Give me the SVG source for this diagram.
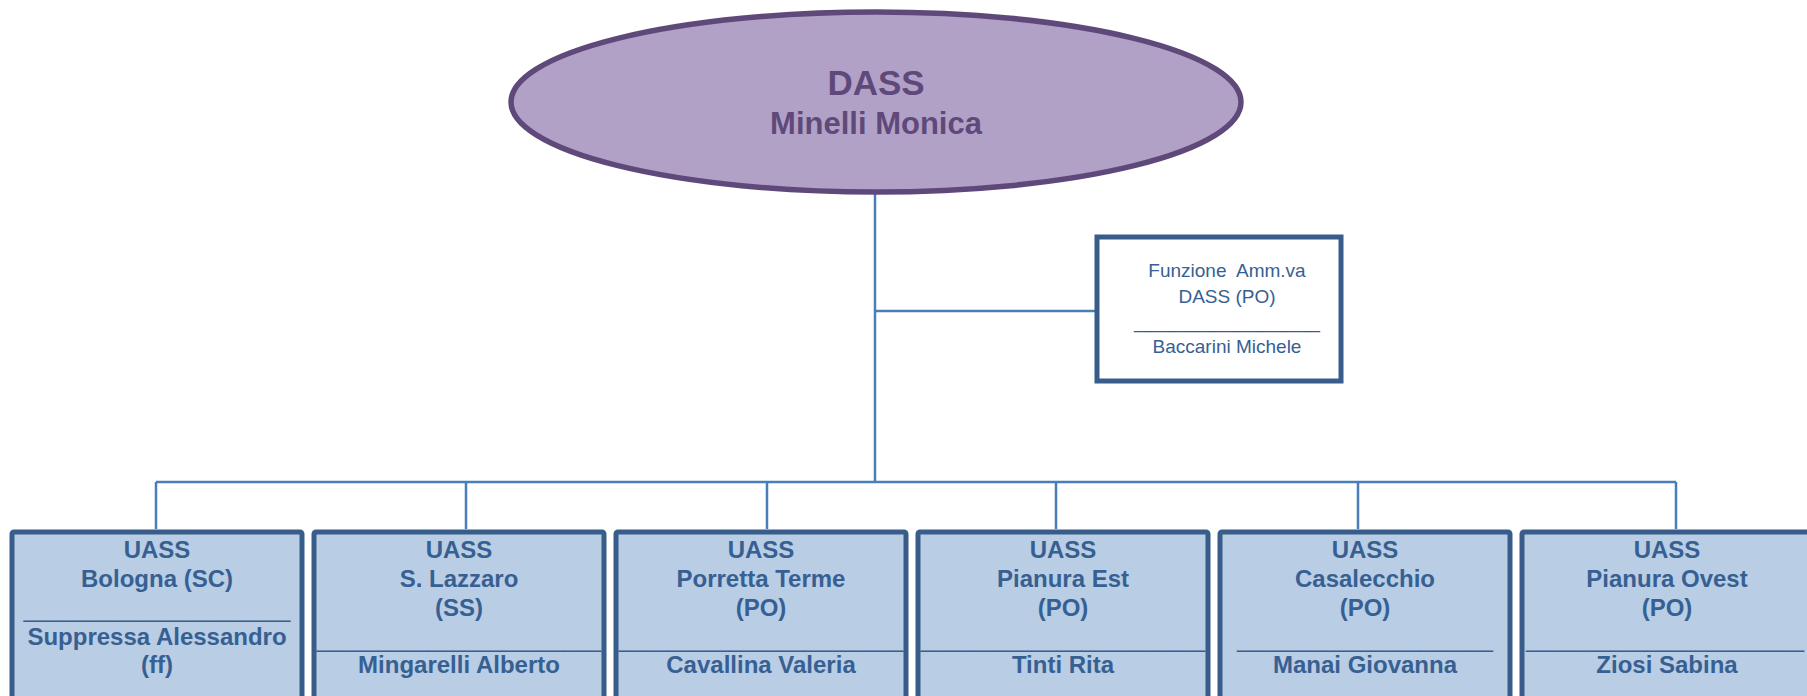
<svg xmlns="http://www.w3.org/2000/svg" width="1807" height="696" viewBox="0 0 1807 696">
<style>
.conn{stroke:#4a7ebb;stroke-width:2.5;fill:none}
.box{fill:#b9cde5;stroke:#385d8a;stroke-width:5}
.bt{font-family:"Liberation Sans",Arial,sans-serif;font-weight:bold;font-size:24px;fill:#376092;text-anchor:middle}
.sep{font-family:"Liberation Sans",Arial,sans-serif;font-size:24px;fill:#376092;text-anchor:middle}
.ft{font-family:"Liberation Sans",Arial,sans-serif;font-size:19px;fill:#376092;text-anchor:middle}
.et{font-family:"Liberation Sans",Arial,sans-serif;font-weight:bold;fill:#5f497a;text-anchor:middle}
</style>
<rect width="1807" height="696" fill="#ffffff"/>
<g id="connectors">
<path class="conn" d="M875 192V482"/>
<path class="conn" d="M875 311H1097"/>
<path class="conn" d="M156 482H1676"/>
<path class="conn" d="M156 482V529M466 482V529M767 482V529M1056 482V529M1358 482V529M1676 482V529"/>
</g>
<g id="dass">
<ellipse cx="876" cy="102" rx="365" ry="90" fill="#b2a1c7" stroke="#5f497a" stroke-width="5.5"/>
<text class="et" x="876" y="95" font-size="35">DASS</text>
<text class="et" x="876" y="134" font-size="31">Minelli Monica</text>
</g>
<g id="funzione">
<rect x="1097" y="237" width="244" height="144" fill="#ffffff" stroke="#385d8a" stroke-width="5"/>
<text class="ft" x="1227" y="277" xml:space="preserve">Funzione  Amm.va</text>
<text class="ft" x="1227" y="303">DASS (PO)</text>
<text class="ft" x="1227" y="328" textLength="186" lengthAdjust="spacingAndGlyphs">________________</text>
<text class="ft" x="1227" y="353">Baccarini Michele</text>
</g>
<g id="uass-bologna">
<rect class="box" x="12" y="532" width="290" height="180" rx="2"/>
<text class="bt" x="157" y="558">UASS</text>
<text class="bt" x="157" y="587">Bologna (SC)</text>
<text class="sep" x="157" y="617" textLength="267" lengthAdjust="spacingAndGlyphs">______________________</text>
<text class="bt" x="157" y="645">Suppressa Alessandro</text>
<text class="bt" x="157" y="673">(ff)</text>
</g>
<g id="uass-lazzaro">
<rect class="box" x="314" y="532" width="290" height="180" rx="2"/>
<text class="bt" x="459" y="558">UASS</text>
<text class="bt" x="459" y="587">S. Lazzaro</text>
<text class="bt" x="459" y="616">(SS)</text>
<text class="sep" x="459" y="647" textLength="285" lengthAdjust="spacingAndGlyphs">_______________________</text>
<text class="bt" x="459" y="673">Mingarelli Alberto</text>
</g>
<g id="uass-porretta">
<rect class="box" x="616" y="532" width="290" height="180" rx="2"/>
<text class="bt" x="761" y="558">UASS</text>
<text class="bt" x="761" y="587">Porretta Terme</text>
<text class="bt" x="761" y="616">(PO)</text>
<text class="sep" x="761" y="647" textLength="285" lengthAdjust="spacingAndGlyphs">_______________________</text>
<text class="bt" x="761" y="673">Cavallina Valeria</text>
</g>
<g id="uass-pianura-est">
<rect class="box" x="918" y="532" width="290" height="180" rx="2"/>
<text class="bt" x="1063" y="558">UASS</text>
<text class="bt" x="1063" y="587">Pianura Est</text>
<text class="bt" x="1063" y="616">(PO)</text>
<text class="sep" x="1063" y="647" textLength="285" lengthAdjust="spacingAndGlyphs">_______________________</text>
<text class="bt" x="1063" y="673">Tinti Rita</text>
</g>
<g id="uass-casalecchio">
<rect class="box" x="1220" y="532" width="290" height="180" rx="2"/>
<text class="bt" x="1365" y="558">UASS</text>
<text class="bt" x="1365" y="587">Casalecchio</text>
<text class="bt" x="1365" y="616">(PO)</text>
<text class="sep" x="1365" y="647" textLength="256" lengthAdjust="spacingAndGlyphs">_____________________</text>
<text class="bt" x="1365" y="673">Manai Giovanna</text>
</g>
<g id="uass-pianura-ovest">
<rect class="box" x="1522" y="532" width="290" height="180" rx="2"/>
<text class="bt" x="1667" y="558">UASS</text>
<text class="bt" x="1667" y="587">Pianura Ovest</text>
<text class="bt" x="1667" y="616">(PO)</text>
<text class="sep" x="1665" y="647" textLength="278" lengthAdjust="spacingAndGlyphs">_______________________</text>
<text class="bt" x="1667" y="673">Ziosi Sabina</text>
</g>
</svg>
